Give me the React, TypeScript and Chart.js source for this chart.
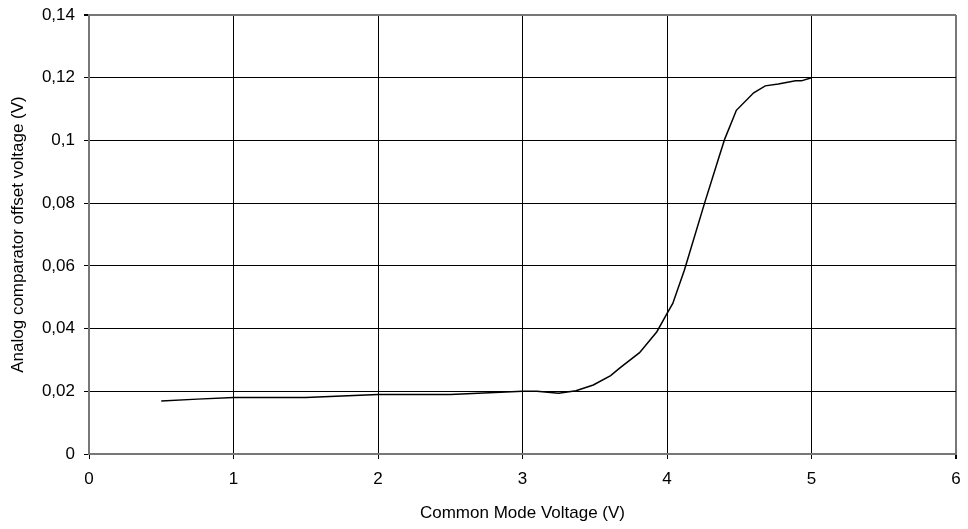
import React, { useEffect, useRef } from "react";
import { Chart, registerables } from "chart.js";

Chart.register(...registerables);

const xValues = [0.5, 0.75, 1, 1.5, 2, 2.5, 3, 3.1, 3.25, 3.37, 3.49, 3.61, 3.67, 3.81, 3.93, 3.99, 4.04, 4.12, 4.26, 4.36, 4.4, 4.46, 4.48, 4.6, 4.68, 4.77, 4.89, 4.93, 5.0];
const yValues = [0.0169, 0.0175, 0.018, 0.018, 0.019, 0.019, 0.02, 0.02, 0.0194, 0.0202, 0.022, 0.025, 0.0273, 0.0323, 0.039, 0.044, 0.048, 0.0586, 0.08, 0.0947, 0.1005, 0.1073, 0.1096, 0.1152, 0.1174, 0.118, 0.119, 0.119, 0.12];

const xMin = 0;
const xMax = 6;
const yMin = 0;
const yMax = 0.14;

const xTitle = "Common Mode Voltage (V)";
const yTitle = "Analog comparator offset voltage (V)";
const FONT = "'Liberation Sans', Arial, sans-serif";
const GRID = "#000";
const EDGE = "#777";

export default function App() {
  const ref = useRef<HTMLCanvasElement | null>(null);

  useEffect(() => {
    document.body.style.margin = "0";
    const canvas = ref.current;
    if (!canvas) return;
    const points = xValues.map((x, i) => ({ x, y: yValues[i] }));
    const chart = new Chart(canvas, {
      type: "scatter",
      data: {
        datasets: [
          {
            data: points,
            showLine: true,
            borderColor: "#000",
            borderWidth: 1.5,
            pointRadius: 0,
            tension: 0,
            fill: false,
          },
        ],
      },
      options: {
        animation: false,
        responsive: false,
        maintainAspectRatio: false,
        layout: { padding: { top: 15, right: 12, left: 0, bottom: 0 } },
        plugins: { legend: { display: false }, tooltip: { enabled: false } },
        scales: {
          x: {
            type: "linear",
            min: xMin,
            max: xMax,
            afterFit: (s: any) => {
              s.height = 75;
              s.paddingRight = 0;
              s.paddingLeft = 0;
            },
            ticks: {
              stepSize: 1,
              color: "#000",
              padding: 10,
              font: { family: FONT, size: 17 },
            },
            grid: {
              color: (c: any) => (c.tick && c.tick.value === xMax ? EDGE : GRID),
              lineWidth: (c: any) => (c.tick && c.tick.value === xMax ? 2 : 1),
              tickColor: GRID,
              tickLength: 5,
            },
            border: { color: EDGE, width: 2 },
            title: {
              display: true,
              text: xTitle,
              color: "#000",
              font: { family: FONT, size: 17 },
              padding: { top: 0, bottom: 5 },
            },
          },
          y: {
            type: "linear",
            min: yMin,
            max: yMax,
            afterFit: (s: any) => {
              s.width = 89;
              s.paddingTop = 0;
              s.paddingBottom = 0;
            },
            ticks: {
              stepSize: 0.02,
              color: "#000",
              padding: 9,
              font: { family: FONT, size: 17 },
              callback: (v: any) => Number(Number(v).toFixed(2)).toString().replace(".", ","),
            },
            grid: {
              color: (c: any) => (c.tick && Math.abs(c.tick.value - yMax) < 1e-9 ? EDGE : GRID),
              lineWidth: (c: any) => (c.tick && Math.abs(c.tick.value - yMax) < 1e-9 ? 2 : 1),
              tickColor: GRID,
              tickLength: 5,
            },
            border: { color: EDGE, width: 2 },
            title: {
              display: true,
              text: yTitle,
              color: "#000",
              font: { family: FONT, size: 17 },
              padding: { top: 8, bottom: 0 },
            },
          },
        },
      },
    });
    return () => chart.destroy();
  }, []);

  return (
    <div style={{ width: 968, height: 529, background: "#fff" }}>
      <canvas ref={ref} width={968} height={529} style={{ display: "block" }} />
    </div>
  );
}
